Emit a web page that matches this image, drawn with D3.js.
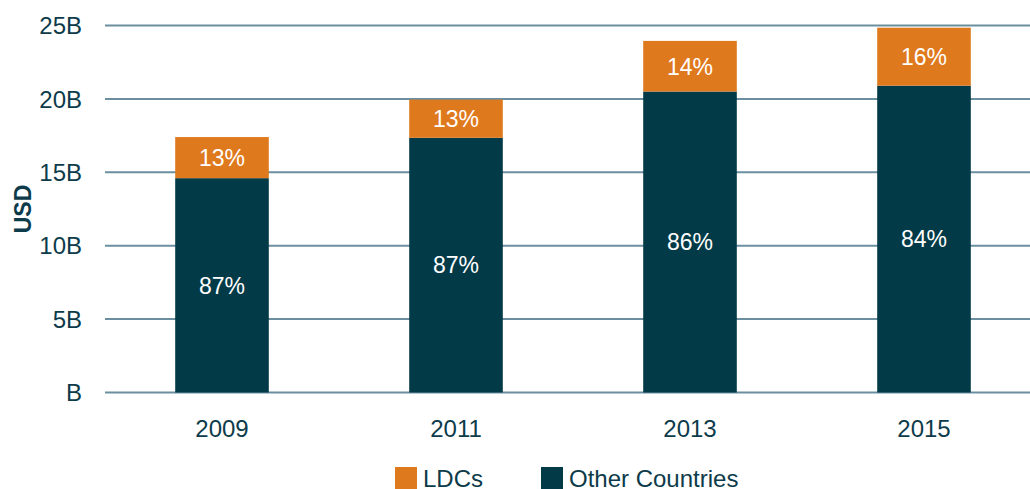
<!DOCTYPE html>
<html>
<head>
<meta charset="utf-8">
<script src="https://cdn.jsdelivr.net/npm/d3@7"></script>
<style>
  body { margin: 0; background: #fff; }
  svg { display: block; font-family: "Liberation Sans", Arial, sans-serif; }
</style>
</head>
<body>
<svg id="chart" width="1030" height="489"></svg>
<script>
// values, in billions USD
const years = ["2009", "2011", "2013", "2015"];
const otherValues = [14.6, 17.35, 20.5, 20.9];
const ldcValues = [2.8, 2.6, 3.45, 3.95];
const otherLabels = ["87%", "87%", "86%", "84%"];
const ldcLabels = ["13%", "13%", "14%", "16%"];
const yTicks = [0, 5, 10, 15, 20, 25];
const seriesNames = ["LDCs", "Other Countries"];

const textColor = "#0d3b4a";
const colors = { ldc: "#df791d", other: "#023a48" };

const svg = d3.select("#chart");

const x = d3.scaleBand()
  .domain(years)
  .range([105, 1041])
  .paddingInner(0.6)
  .paddingOuter(0.3);

const y = d3.scaleLinear()
  .domain([0, 25])
  .range([392.5, 25.5]);

// gridlines
svg.append("g")
  .selectAll("line")
  .data(yTicks)
  .join("line")
  .attr("x1", 105)
  .attr("x2", 1030)
  .attr("y1", d => y(d))
  .attr("y2", d => y(d))
  .attr("stroke", "#6b8f9f")
  .attr("stroke-width", 2);

// y tick labels
svg.append("g")
  .selectAll("text")
  .data(yTicks)
  .join("text")
  .attr("x", 82)
  .attr("y", d => y(d))
  .attr("dy", "0.36em")
  .attr("text-anchor", "end")
  .attr("fill", textColor)
  .style("font-size", "24px")
  .text(d => d === 0 ? "B" : d + "B");

// y axis title
svg.append("text")
  .attr("transform", "translate(31,209) rotate(-90)")
  .attr("text-anchor", "middle")
  .attr("fill", textColor)
  .style("font-size", "23px")
  .style("font-weight", "bold")
  .text("USD");

const rows = years.map((yr, i) => ({
  year: yr,
  other: otherValues[i],
  ldc: ldcValues[i],
  otherLabel: otherLabels[i],
  ldcLabel: ldcLabels[i]
}));

const bars = svg.append("g");

// other countries segment
bars.selectAll("rect.other")
  .data(rows)
  .join("rect")
  .attr("class", "other")
  .attr("x", d => x(d.year))
  .attr("width", x.bandwidth())
  .attr("y", d => y(d.other))
  .attr("height", d => y(0) - y(d.other))
  .attr("fill", colors.other);

// LDC segment
bars.selectAll("rect.ldc")
  .data(rows)
  .join("rect")
  .attr("class", "ldc")
  .attr("x", d => x(d.year))
  .attr("width", x.bandwidth())
  .attr("y", d => y(d.other + d.ldc))
  .attr("height", d => y(d.other) - y(d.other + d.ldc))
  .attr("fill", colors.ldc);

// percent labels
bars.selectAll("text.otherLbl")
  .data(rows)
  .join("text")
  .attr("class", "otherLbl")
  .attr("x", d => x(d.year) + x.bandwidth() / 2)
  .attr("y", d => (y(0) + y(d.other)) / 2)
  .attr("dy", "0.36em")
  .attr("text-anchor", "middle")
  .attr("fill", "#fff")
  .style("font-size", "23px")
  .text(d => d.otherLabel);

bars.selectAll("text.ldcLbl")
  .data(rows)
  .join("text")
  .attr("class", "ldcLbl")
  .attr("x", d => x(d.year) + x.bandwidth() / 2)
  .attr("y", d => (y(d.other) + y(d.other + d.ldc)) / 2)
  .attr("dy", "0.36em")
  .attr("text-anchor", "middle")
  .attr("fill", "#fff")
  .style("font-size", "23px")
  .text(d => d.ldcLabel);

// x labels
svg.append("g")
  .selectAll("text")
  .data(years)
  .join("text")
  .attr("x", d => x(d) + x.bandwidth() / 2)
  .attr("y", 428.5)
  .attr("dy", "0.36em")
  .attr("text-anchor", "middle")
  .attr("fill", textColor)
  .style("font-size", "24px")
  .text(d => d);

// legend
const legendX = [395, 541];
const legend = svg.append("g")
  .selectAll("g")
  .data(seriesNames)
  .join("g")
  .attr("transform", (d, i) => `translate(${legendX[i]},467)`);

legend.append("rect")
  .attr("width", 22)
  .attr("height", 22)
  .attr("fill", (d, i) => i === 0 ? colors.ldc : colors.other);

legend.append("text")
  .attr("x", 28)
  .attr("y", 11)
  .attr("dy", "0.36em")
  .attr("fill", textColor)
  .style("font-size", "24px")
  .text(d => d);
</script>
</body>
</html>
